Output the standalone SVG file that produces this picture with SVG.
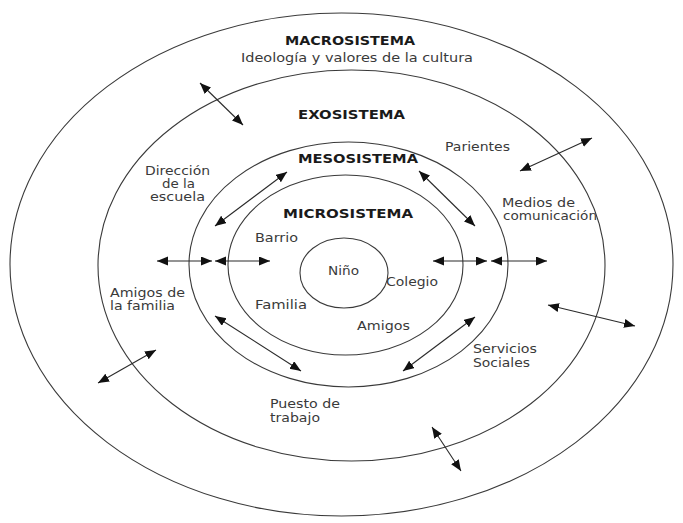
<svg xmlns="http://www.w3.org/2000/svg" width="683" height="523" viewBox="0 0 683 523">
<defs>
<style>
.ring{fill:none;stroke:#3a3a3a;stroke-width:1.1}
.t{font-family:"DejaVu Sans","Liberation Sans",sans-serif;font-size:11.5px;fill:#3a3a3a}
.b{font-family:"DejaVu Sans","Liberation Sans",sans-serif;font-size:11.5px;font-weight:bold;fill:#1a1a1a}
.c{stroke:#2a2a2a;stroke-width:1.1;fill:none;marker-start:url(#ah);marker-end:url(#ah)}
</style>
<marker id="ah" markerUnits="userSpaceOnUse" markerWidth="12" markerHeight="10" refX="11" refY="4.5" orient="auto-start-reverse">
<path d="M0,0 L11,4.5 L0,9 Z" fill="#111"/>
</marker>
</defs>
<rect width="683" height="523" fill="#fff"/>
<g id="macrosistema">
<ellipse class="ring" cx="341.5" cy="264.5" rx="331.5" ry="251.5"/>
<text class="b" x="285" y="45" textLength="130" lengthAdjust="spacingAndGlyphs">MACROSISTEMA</text>
<text class="t" x="241" y="62" style="font-size:12.5px" textLength="232" lengthAdjust="spacingAndGlyphs">Ideología y valores de la cultura</text>
</g>
<g id="exosistema">
<ellipse class="ring" cx="351.5" cy="265.5" rx="253.5" ry="195.5"/>
<text class="b" x="298" y="119" textLength="107" lengthAdjust="spacingAndGlyphs">EXOSISTEMA</text>
<text class="t" x="145" y="175" textLength="65" lengthAdjust="spacingAndGlyphs">Dirección</text>
<text class="t" x="162" y="188" textLength="33" lengthAdjust="spacingAndGlyphs">de la</text>
<text class="t" x="150" y="201" textLength="55" lengthAdjust="spacingAndGlyphs">escuela</text>
<text class="t" x="445" y="151" textLength="65" lengthAdjust="spacingAndGlyphs">Parientes</text>
<text class="t" x="502" y="207" textLength="73" lengthAdjust="spacingAndGlyphs">Medios de</text>
<text class="t" x="503" y="220" textLength="94" lengthAdjust="spacingAndGlyphs">comunicación</text>
<text class="t" x="110" y="297" textLength="75" lengthAdjust="spacingAndGlyphs">Amigos de</text>
<text class="t" x="110" y="310" textLength="65" lengthAdjust="spacingAndGlyphs">la familia</text>
<text class="t" x="270" y="408" textLength="70" lengthAdjust="spacingAndGlyphs">Puesto de</text>
<text class="t" x="270" y="422" textLength="50" lengthAdjust="spacingAndGlyphs">trabajo</text>
<text class="t" x="473" y="353" textLength="64" lengthAdjust="spacingAndGlyphs">Servicios</text>
<text class="t" x="473" y="367" textLength="57" lengthAdjust="spacingAndGlyphs">Sociales</text>
</g>
<g id="mesosistema">
<ellipse class="ring" cx="348.5" cy="264.5" rx="159.5" ry="122.5"/>
<text class="b" x="298" y="163" textLength="120" lengthAdjust="spacingAndGlyphs">MESOSISTEMA</text>
</g>
<g id="microsistema">
<ellipse class="ring" cx="345.5" cy="265" rx="117.5" ry="90"/>
<text class="b" x="283" y="218" textLength="130" lengthAdjust="spacingAndGlyphs">MICROSISTEMA</text>
<text class="t" x="255" y="242" textLength="43" lengthAdjust="spacingAndGlyphs">Barrio</text>
<text class="t" x="386" y="286" textLength="52" lengthAdjust="spacingAndGlyphs">Colegio</text>
<text class="t" x="255" y="309" textLength="52" lengthAdjust="spacingAndGlyphs">Familia</text>
<text class="t" x="357" y="330" textLength="53" lengthAdjust="spacingAndGlyphs">Amigos</text>
</g>
<g id="nino">
<ellipse class="ring" cx="344" cy="273" rx="44" ry="35"/>
<text class="t" x="328" y="275" textLength="31" lengthAdjust="spacingAndGlyphs">Niño</text>
</g>
<g id="connectors">
<line class="c" x1="200" y1="83" x2="243" y2="125"/>
<line class="c" x1="592" y1="138" x2="520" y2="171"/>
<line class="c" x1="548" y1="305" x2="635" y2="326"/>
<line class="c" x1="156" y1="350" x2="98" y2="383"/>
<line class="c" x1="432" y1="427" x2="461" y2="471"/>
<line class="c" x1="287" y1="172" x2="215" y2="226"/>
<line class="c" x1="419" y1="171" x2="475" y2="226"/>
<line class="c" x1="215" y1="316" x2="301" y2="371"/>
<line class="c" x1="475" y1="317" x2="403" y2="371"/>
<line class="c" x1="157" y1="261" x2="212" y2="261"/>
<line class="c" x1="215" y1="261" x2="270" y2="261"/>
<line class="c" x1="433" y1="261" x2="487" y2="261"/>
<line class="c" x1="491" y1="261" x2="547" y2="261"/>
</g>
</svg>
